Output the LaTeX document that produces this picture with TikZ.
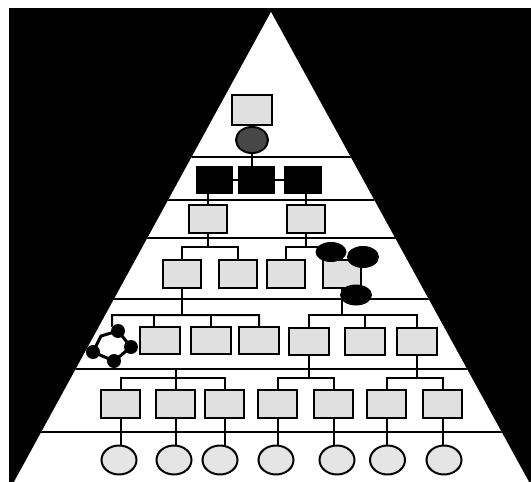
\documentclass[tikz,border=0pt]{standalone}
\usetikzlibrary{positioning, shapes.geometric}

\begin{document}
\begin{tikzpicture}[
    x=1pt, y=-1pt,
    unit/.style={rectangle, draw=black, line width=2pt, fill=black!12,
      minimum width=39pt, minimum height=28pt, inner sep=0pt},
    headbox/.style={unit, fill=black, minimum width=35pt, minimum height=26pt},
    leaf/.style={ellipse, draw=black, line width=2pt, fill=black!10,
      minimum width=35pt, minimum height=29pt, inner sep=0pt},
    blob/.style={ellipse, fill=black, minimum width=32pt, minimum height=21pt,
      inner sep=0pt},
    dot/.style={circle, fill=black, minimum size=14pt, inner sep=0pt},
    wire/.style={line width=2pt},
    tier/.style={line width=1.9pt}
  ]
    \useasboundingbox (0,0) rectangle (531,482);
    \fill[black] (9,8) rectangle (531,482);

    % pyramid and its tiers
    \coordinate (apex) at (271,12);
    \coordinate (bl) at (14,482);
    \coordinate (br) at (529,482);
    \fill[white] (apex) -- (bl) -- (br) -- cycle;
    \begin{scope}
      \clip (apex) -- (bl) -- (br) -- cycle;
      \foreach \yy in {157,200,238,299,369,432}
        \draw[tier] (0,\yy) -- (531,\yy);
    \end{scope}

    \coordinate (bus3) at (0,247);
    \coordinate (bus4) at (0,315);
    \coordinate (bus5) at (0,378);
    \coordinate (div5) at (0,369);

    % top
    \node[unit, minimum width=40pt, minimum height=30pt] (top) at (252,110) {};
    \node[leaf, fill=black!72, minimum width=32pt, minimum height=26pt] (t0) at (252,140) {};

    % black row
    \node[headbox] (b1) at (214.5,180) {};
    \node[headbox, right=5pt of b1] (b2) {};
    \node[headbox, minimum width=36pt, right=9pt of b2] (b3) {};

    \node[unit, minimum width=38pt] (c1) at (208,219) {};
    \node[unit, minimum width=38pt] (c2) at (306,219) {};

    \node[unit, minimum width=38pt] (d1) at (182,274) {};
    \node[unit, minimum width=38pt, right=16pt of d1] (d2) {};
    \node[unit, minimum width=38pt, right=8pt of d2] (d3) {};
    \node[unit, minimum width=38pt, right=16pt of d3] (d4) {};

    \node[unit, minimum width=40pt, minimum height=27pt] (f1) at (160,340.5) {};
    \node[unit, minimum width=40pt, minimum height=27pt, right=9pt of f1] (f2) {};
    \node[unit, minimum width=40pt, minimum height=27pt, right=6pt of f2] (f3) {};
    \node[unit, minimum width=40pt, minimum height=27pt] (f4) at (309,341) {};
    \node[unit, minimum width=40pt, minimum height=27pt, right=14pt of f4] (f5) {};
    \node[unit, minimum width=40pt, minimum height=27pt, right=10pt of f5] (f6) {};

    \node[unit] (g1) at (120.5,404) {};
    \node[unit, right=14pt of g1] (g2) {};
    \node[unit, right=8pt of g2] (g3) {};
    \node[unit, right=12pt of g3] (g4) {};
    \node[unit, right=15pt of g4] (g5) {};
    \node[unit, right=12pt of g5] (g6) {};
    \node[unit, right=15pt of g6] (g7) {};

    \node[leaf] (h1) at (119,460) {};
    \node[leaf, right=18pt of h1] (h2) {};
    \node[leaf, right=9pt of h2] (h3) {};
    \node[leaf, right=19pt of h3] (h4) {};
    \node[leaf, right=24pt of h4] (h5) {};
    \node[leaf, right=13.5pt of h5] (h6) {};
    \node[leaf, right=19.5pt of h6] (h7) {};

    % ring of dots
    \coordinate (hx0) at (112,326);
    \coordinate (hx1) at (118,331);
    \coordinate (hx2) at (131,347);
    \coordinate (hx3) at (114,361);
    \coordinate (hx4) at (93,352);
    \coordinate (hx5) at (101,336);
    \draw[line width=3pt, fill=white] (hx1) -- (hx2) -- (hx3) -- (hx4) -- (hx5) -- cycle;
    \node[dot] (hd1) at (hx1) {};
    \node[dot] (hd2) at (hx2) {};
    \node[dot] (hd3) at (hx3) {};
    \node[dot] (hd4) at (hx4) {};

    % links
    \draw[wire] (top.south) -- (t0.north);
    \draw[wire] (t0.south) -- (t0.south |- b2.north);
    \draw[wire] (b1.east) -- (b2.west);
    \draw[wire] (b2.east) -- (b3.west);
    \draw[wire] (c1.north |- b1.south) -- (c1.north);
    \draw[wire] (c2.north |- b3.south) -- (c2.north);

    \draw[wire] (c1.south) -- (c1.south |- bus3);
    \draw[wire] (d1.north) -- (d1.north |- bus3) -- (d2.north |- bus3) -- (d2.north);
    \draw[wire] (c2.south) -- (c2.south |- bus3);
    \draw[wire] (d3.north) -- (d3.north |- bus3) -- (d4.north |- bus3) -- (d4.north);

    \draw[wire] (d1.south) -- (d1.south |- bus4);
    \draw[wire] (hd1) -- (hx0) -- (hx0 |- bus4) -- (f3.north |- bus4) -- (f3.north);
    \draw[wire] ([xshift=-6pt]f1.north) -- ([xshift=-6pt]f1.north |- bus4);
    \draw[wire] (f2.north) -- (f2.north |- bus4);
    \draw[wire] (d4.south) -- (d4.south |- bus4);
    \draw[wire] (f4.north) -- (f4.north |- bus4) -- (f6.north |- bus4) -- (f6.north);
    \draw[wire] (f5.north) -- (f5.north |- bus4);

    \draw[wire] (g1.north) -- (g1.north |- bus5) -- (g3.north |- bus5) -- (g3.north);
    \draw[wire] (g2.north) -- (g2.north |- div5);
    \draw[wire] (f4.south) -- (f4.south |- bus5);
    \draw[wire] (g4.north) -- (g4.north |- bus5) -- (g5.north |- bus5) -- (g5.north);
    \draw[wire] (f6.south) -- (f6.south |- bus5);
    \draw[wire] (g6.north) -- (g6.north |- bus5) -- (g7.north |- bus5) -- (g7.north);

    \foreach \i in {1,...,7}
      \draw[wire] (g\i.south) -- (g\i.south |- h\i.north);

    % dark blobs
    \node[blob, minimum width=31pt, minimum height=20pt] (e1) at (331,252) {};
    \node[blob, minimum height=22pt] (e2) at (363,257) {};
    \node[blob] (e3) at (356,295) {};
  \end{tikzpicture}
\end{document}
